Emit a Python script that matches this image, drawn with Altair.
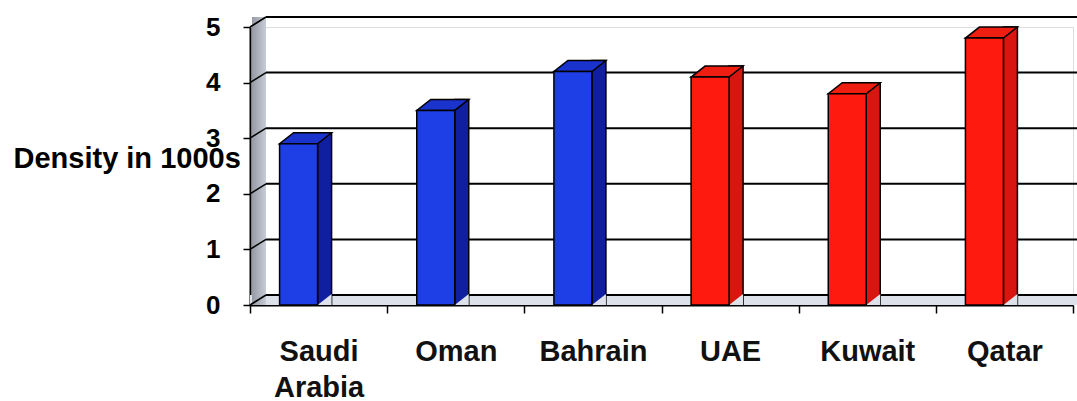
import altair as alt
import pandas as pd

# Population density (thousands) by country
countries = ["Saudi Arabia", "Oman", "Bahrain", "UAE", "Kuwait", "Qatar"]
density = [2.9, 3.5, 4.2, 4.1, 3.8, 4.8]
series = ["a", "a", "a", "b", "b", "b"]
y_ticks = [0, 1, 2, 3, 4, 5]

bars = pd.DataFrame({"country": countries, "density": density, "series": series})
grid = pd.DataFrame({"v": y_ticks})
one = pd.DataFrame({"k": [0]})

W, H = 823, 278
DX, DY = 14, 11          # bar depth (px)
WALL_DX, WALL_DY = 16, 10  # back-wall depth (px)
FRONT_OFF = -20          # front face shift inside its band
BAR_W = 38

FRONT = ["#1f3fe6", "#ff1a0f"]
TOP = ["#1a33cc", "#ee1e10"]
SIDE = ["#101fa0", "#d81510"]
FLOOR = "#dde2ea"

x_enc = alt.X(
    "country:N", sort=countries,
    scale=alt.Scale(paddingInner=0, paddingOuter=0),
    axis=alt.Axis(
        title=None, labelAngle=0, labelExpr="split(datum.label, ' ')",
        labelFont="Liberation Sans", labelFontSize=29, labelFontWeight="bold",
        labelColor="#111111", labelLineHeight=36, labelPadding=24,
        labelBaseline="top", tickSize=8, tickBand="extent", tickColor="black",
        tickWidth=1.5, domainColor="black", domainWidth=2,
    ),
)
y_scale = alt.Scale(domain=[0, 5], nice=False, zero=True)
y_axis = alt.Axis(
    values=y_ticks, format="d", grid=False,
    title="Density in 1000s", titleAngle=0, titleAlign="left",
    titleBaseline="middle", titleX=-237, titleY=131,
    titleFont="Liberation Sans", titleFontSize=29, titleFontWeight="bold",
    titleColor="black",
    labelFont="Liberation Sans Narrow, Liberation Sans", labelFontSize=26,
    labelFontWeight="bold", labelColor="black", labelPadding=23,
    tickSize=7, tickColor="black", tickWidth=1.5,
    domainColor="black", domainWidth=2,
)

def col(rng):
    return alt.Color("series:N", scale=alt.Scale(domain=["a", "b"], range=rng), legend=None)

# floor strip
floor = alt.Chart(one).mark_rect(color=FLOOR, y2Offset=-WALL_DY).encode(
    x=alt.value(0), x2=alt.value(W + 4),
    y=alt.datum(0, scale=y_scale, axis=y_axis), y2=alt.datum(0),
)

# left side wall
wall = alt.Chart(one).mark_rect(
    yOffset=-WALL_DY,
    color=alt.Gradient(gradient="linear", x1=0, x2=1, y1=0, y2=0,
                       stops=[alt.GradientStop(color="#969aa6", offset=0),
                              alt.GradientStop(color="#c8ccd6", offset=1)]),
).encode(
    x=alt.value(2), x2=alt.value(WALL_DX),
    y=alt.datum(5, scale=y_scale, axis=y_axis), y2=alt.datum(0),
)

# gridlines on the back wall
gridlines = alt.Chart(grid).mark_rule(color="black", strokeWidth=2, yOffset=-WALL_DY).encode(
    x=alt.value(WALL_DX), x2=alt.value(W + 4),
    y=alt.Y("v:Q", scale=y_scale, axis=y_axis),
)
diagonals = alt.Chart(grid).mark_rule(color="black", strokeWidth=1.5, y2Offset=-WALL_DY).encode(
    x=alt.value(0), x2=alt.value(WALL_DX),
    y=alt.Y("v:Q", scale=y_scale, axis=y_axis), y2="v:Q",
)

base = alt.Chart(bars).encode(x=x_enc)

side = base.mark_bar(
    width=DX, xOffset=FRONT_OFF + BAR_W / 2 + DX / 2, yOffset=-DY, y2Offset=0,
    stroke="black", strokeWidth=1.5,
).encode(
    y=alt.Y("density:Q", scale=y_scale, axis=y_axis), y2=alt.datum(0), color=col(SIDE),
)

# floor-coloured notch under each side face
notch = base.mark_point(
    shape="M1.9,0L3.3,-1.1L3.3,0Z", size=400, filled=True, opacity=1,
    color=FLOOR, xOffset=FRONT_OFF,
).encode(y=alt.datum(0, scale=y_scale, axis=y_axis))

top = base.mark_point(
    shape="M-1.9,0L1.9,0L3.3,-1.1L-0.5,-1.1Z", size=400, filled=True, opacity=1,
    stroke="black", strokeWidth=1.5, xOffset=FRONT_OFF,
).encode(
    y=alt.Y("density:Q", scale=y_scale, axis=y_axis), fill=alt.Fill(
        "series:N", scale=alt.Scale(domain=["a", "b"], range=TOP), legend=None),
)

front = base.mark_bar(
    width=BAR_W, xOffset=FRONT_OFF, stroke="black", strokeWidth=1.5,
).encode(
    y=alt.Y("density:Q", scale=y_scale, axis=y_axis),
    color=col(FRONT),
)

chart = alt.layer(
    floor, wall, gridlines, diagonals, side, notch, top, front
).resolve_scale(color="independent", fill="independent").properties(
    width=W, height=H, autosize="none",
    padding={"left": 250, "top": 27, "right": 4, "bottom": 96},
).configure_view(stroke=None).configure(background="white")

chart.save("out.html", embed_options={"renderer": "svg", "actions": False})
